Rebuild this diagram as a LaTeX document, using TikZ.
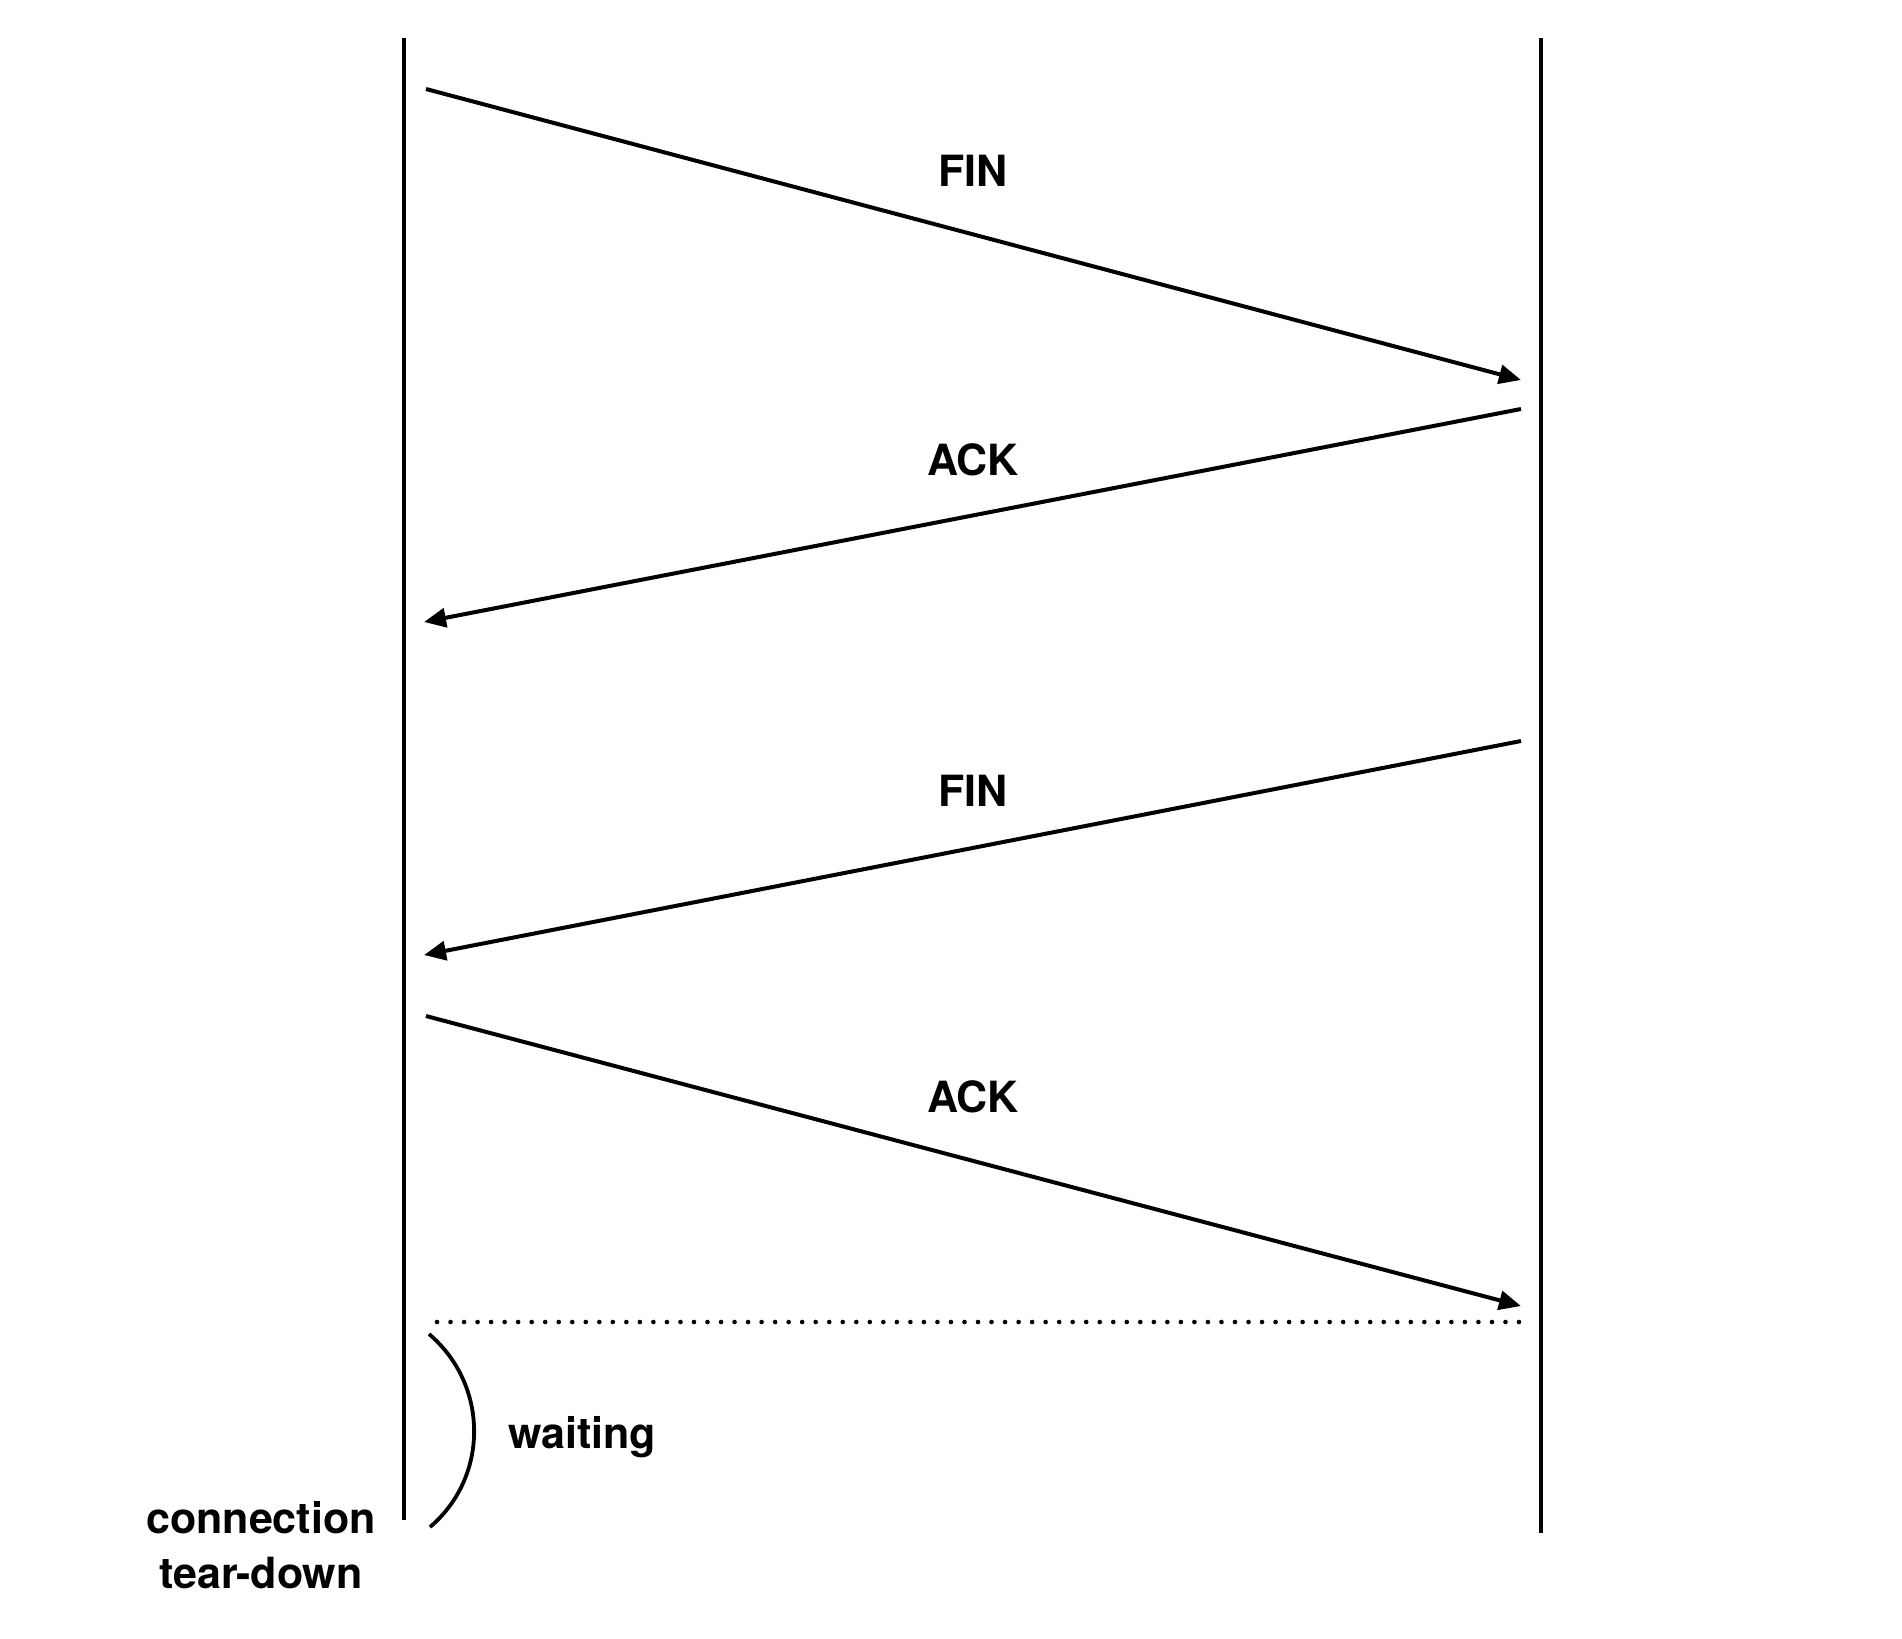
\documentclass[tikz,border=0pt]{standalone}
\usepackage{fontspec}
\setmainfont{TeX Gyre Heros}
\usetikzlibrary{arrows.meta}
\begin{document}
\begin{tikzpicture}[x=1pt,y=-1pt,
  lifeline/.style={line width=4.6pt},
  msg/.style={line width=4pt,-{Triangle[length=22pt,width=19pt]}},
  lbl/.style={font=\fontsize{43}{52}\selectfont\bfseries,anchor=base,inner sep=0pt},
  waitline/.style={line width=4.6pt,line cap=round,dash pattern=on 0pt off 13.525pt},
  arcline/.style={line width=3.8pt}]
\useasboundingbox (0,0) rectangle (1902,1638);
% lifelines
\coordinate (Ltop) at (404,38);
\coordinate (Lbot) at (404,1520);
\coordinate (Rtop) at (1541,38);
\coordinate (Rbot) at (1541,1533);
\draw[lifeline] (Ltop) -- (Lbot);
\draw[lifeline] (Rtop) -- (Rbot);
% message end points
\coordinate (a1) at (426,89);
\coordinate (b1) at (1521,380);
\coordinate (a2) at (1521,409);
\coordinate (b2) at (424,622);
\coordinate (a3) at (1521,741);
\coordinate (b3) at (424,955);
\coordinate (a4) at (426,1016);
\coordinate (b4) at (1521,1306);
\draw[msg] (a1) -- (b1);
\draw[msg] (a2) -- (b2);
\draw[msg] (a3) -- (b3);
\draw[msg] (a4) -- (b4);
\node[lbl] (fin1) at (973,186) {FIN};
\node[lbl] (ack1) at (973,475) {ACK};
\node[lbl] (fin2) at (973,806) {FIN};
\node[lbl] (ack2) at (973,1112) {ACK};
% waiting
\coordinate (d1) at (437,1322);
\coordinate (d2) at (1519,1322);
\draw[waitline] (d1) -- (d2);
\coordinate (w1) at (429,1334);
\coordinate (w2) at (430,1527);
\draw[arcline] (w1) .. controls (489,1385) and (489,1477) .. (w2);
\node[lbl,anchor=base west] (wait) at (508,1448) {waiting};
\node[lbl] (conn) at (261,1533) {connection};
\node[lbl] (tear) at (261,1588) {tear-down};
\end{tikzpicture}
\end{document}
